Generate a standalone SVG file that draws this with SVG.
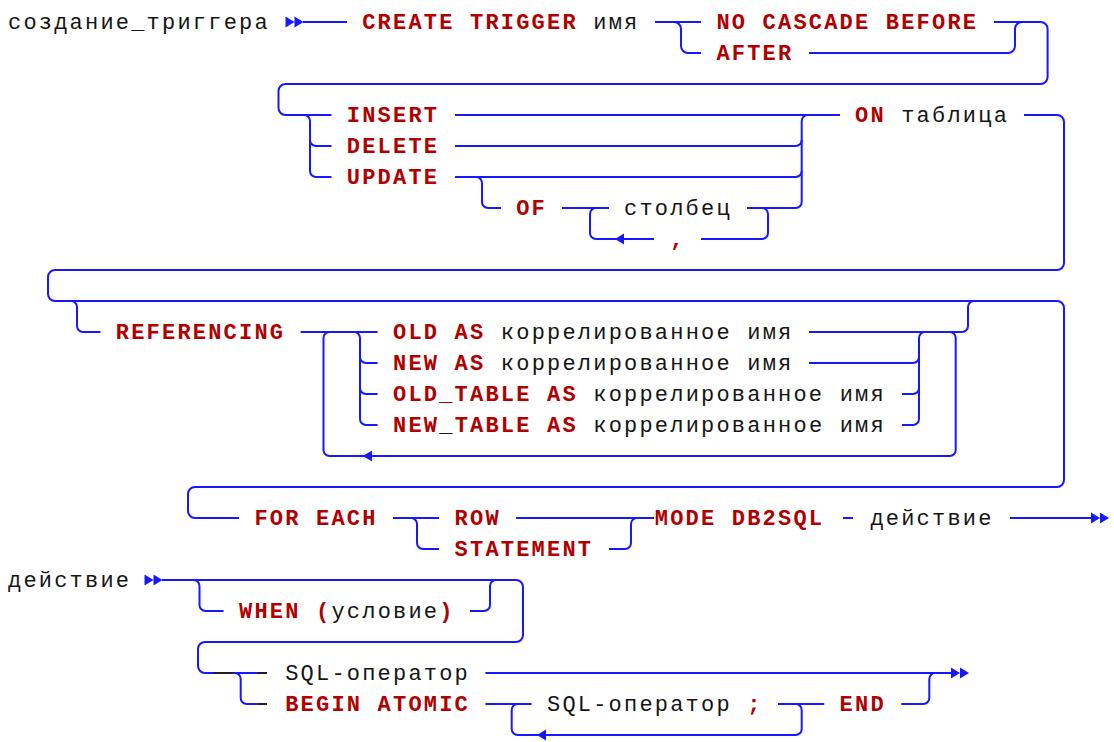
<svg xmlns="http://www.w3.org/2000/svg" width="1114" height="742" viewBox="0 0 1114 742">
  <style>
    text { font-family: "Liberation Mono", "DejaVu Sans Mono", monospace; font-size: 22px; letter-spacing: 2.2px; fill: #141414; }
    .k { fill: #b00000; font-weight: bold; }
    .ln { fill: none; stroke: #1818ff; stroke-width: 2; stroke-linecap: butt; }
    .ah { fill: #1818ff; }
    .dash { fill: none; stroke: #202020; stroke-width: 2; }
  </style>
  <defs>
    <!-- start/end double arrowhead, origin at left edge, centred on the line -->
    <path id="dbl" d="M0,-5.5 L9,0 L0,5.5 Z M9,-5.5 L18,0 L9,5.5 Z"/>
    <!-- loop-back arrowhead, origin at the tip -->
    <path id="back" d="M0,0 L9,-5.5 L9,5.5 Z"/>
  </defs>

  <rect width="1114" height="742" fill="#ffffff"/>

  <!-- ===== connectors ===== -->
  <g id="connectors">
    <!-- row 0 / 1 : CREATE TRIGGER name, BEFORE / AFTER -->
    <path class="ln" d="M303,22 H347"/>
    <path class="ln" d="M655,22 H701"/>
    <path class="ln" d="M674,22 A7,7 0 0 1 681,29 V46 A7,7 0 0 0 688,53 H701"/>
    <path class="ln" d="M994,22 H1040.6 A7,7 0 0 1 1047.6,29 V77 A7,7 0 0 1 1040.6,84 H285.5 A7,7 0 0 0 278.5,91 V108 A7,7 0 0 0 285.5,115 H331.5"/>
    <path class="ln" d="M809,53 H1008 A7,7 0 0 0 1015,46 V29 A7,7 0 0 1 1022,22"/>

    <!-- INSERT / DELETE / UPDATE [OF column, ...] ON table -->
    <path class="ln" d="M455,115 H840"/>
    <path class="ln" d="M304,115 A6,6 0 0 1 310,121 V171 A6,6 0 0 0 316,177 H331.5"/>
    <path class="ln" d="M310,140 A6,6 0 0 0 316,146 H331.5"/>
    <path class="ln" d="M455,146 H795.7 A6,6 0 0 0 801.7,140"/>
    <path class="ln" d="M455,177 H795.7 A6,6 0 0 0 801.7,171"/>
    <path class="ln" d="M747,208 H795.7 A6,6 0 0 0 801.7,202 V121 A6,6 0 0 1 807.7,115"/>
    <path class="ln" d="M476,177 A6,6 0 0 1 482,183 V202 A6,6 0 0 0 488,208 H501"/>
    <path class="ln" d="M562,208 H609"/>
    <path class="ln" d="M762,208 A6,6 0 0 1 768,214 V233 A6,6 0 0 1 762,239 H701"/>
    <path class="ln" d="M654,239 H596 A6,6 0 0 1 590,233 V214 A6,6 0 0 1 596,208"/>
    <use href="#back" class="ah" x="615" y="239"/>

    <!-- table -> REFERENCING -> FOR EACH -->
    <path class="ln" d="M1024,115 H1057 A7,7 0 0 1 1064,122 V263 A7,7 0 0 1 1057,270 H55 A7,7 0 0 0 48,277 V294 A7,7 0 0 0 55,301 H1057 A7,7 0 0 1 1064,308 V480 A7,7 0 0 1 1057,487 H195 A7,7 0 0 0 188,494 V511 A7,7 0 0 0 195,518 H239"/>

    <!-- REFERENCING block -->
    <path class="ln" d="M71,301 A6,6 0 0 1 77,307 V326 A6,6 0 0 0 83,332 H100.5"/>
    <path class="ln" d="M300.6,332 H377.6"/>
    <path class="ln" d="M949.7,332 A6,6 0 0 1 955.7,338 V450 A6,6 0 0 1 949.7,456 H329.5 A6,6 0 0 1 323.5,450 V338 A6,6 0 0 1 329.5,332"/>
    <use href="#back" class="ah" x="363" y="456"/>
    <path class="ln" d="M354,332 A6,6 0 0 1 360,338 V419 A6,6 0 0 0 366,425 H377.6"/>
    <path class="ln" d="M360,357 A6,6 0 0 0 366,363 H377.6"/>
    <path class="ln" d="M360,388 A6,6 0 0 0 366,394 H377.6"/>
    <path class="ln" d="M809,332 H962 A6,6 0 0 0 968,326 V307 A6,6 0 0 1 974,301"/>
    <path class="ln" d="M809,363 H913 A6,6 0 0 0 919,357 V338 A6,6 0 0 1 925,332"/>
    <path class="ln" d="M902,394 H913 A6,6 0 0 0 919,388"/>
    <path class="ln" d="M902,425 H913 A6,6 0 0 0 919,419 V357"/>

    <!-- FOR EACH ROW / STATEMENT MODE DB2SQL -->
    <path class="ln" d="M393,518 H439"/>
    <path class="ln" d="M411,518 A6,6 0 0 1 417,524 V543 A6,6 0 0 0 423,549 H439"/>
    <path class="ln" d="M516,518 H654"/>
    <path class="ln" d="M609,549 H625 A6,6 0 0 0 631,543 V524 A6,6 0 0 1 637,518"/>
    <path class="ln" d="M843,518 H853"/>
    <path class="ln" d="M1010,518 H1091"/>
    <use href="#dbl" class="ah" x="1091" y="518"/>
    <use href="#dbl" class="ah" x="285.5" y="22"/>

    <!-- action: [WHEN (condition)] statement / BEGIN ATOMIC ... END -->
    <use href="#dbl" class="ah" x="144.5" y="580"/>
    <path class="ln" d="M162,580 H516 A7,7 0 0 1 523,587 V635 A7,7 0 0 1 516,642 H205 A7,7 0 0 0 198,649 V666 A7,7 0 0 0 205,673 H267"/>
    <path class="ln" d="M193.5,580 A6,6 0 0 1 199.5,586 V605 A6,6 0 0 0 205.5,611 H223.6"/>
    <path class="ln" d="M470,611 H484 A6,6 0 0 0 490,605 V586 A6,6 0 0 1 496,580"/>
    <path class="ln" d="M234.7,673 A6,6 0 0 1 240.7,679 V698 A6,6 0 0 0 246.7,704 H267"/>
    <!-- dark leader ticks in front of the two statement forms -->
    <path class="dash" d="M213,673 H233 M258,673 H267 M258,704 H267"/>
    <path class="ln" d="M485.4,673 H951"/>
    <use href="#dbl" class="ah" x="951" y="673"/>
    <path class="ln" d="M485.4,704 H531.6"/>
    <path class="ln" d="M795.7,704 A6,6 0 0 1 801.7,710 V729 A6,6 0 0 1 795.7,735 H517.7 A6,6 0 0 1 511.7,729 V710 A6,6 0 0 1 517.7,704"/>
    <use href="#back" class="ah" x="537" y="735"/>
    <path class="ln" d="M778,704 H824.2"/>
    <path class="ln" d="M901.2,704 H923.3 A6,6 0 0 0 929.3,698 V679 A6,6 0 0 1 935.3,673"/>
  </g>

  <!-- ===== terms ===== -->
  <g id="create-trigger-title"><text x="8" y="28.5">создание_триггера</text></g>
  <g id="create-trigger-name"><text x="362.2" y="28.5"><tspan class="k">CREATE TRIGGER</tspan> имя</text></g>
  <g id="no-cascade-before"><text class="k" x="716.4" y="28.5">NO CASCADE BEFORE</text></g>
  <g id="after"><text class="k" x="716.4" y="59.5">AFTER</text></g>

  <g id="insert"><text class="k" x="346.8" y="121.5">INSERT</text></g>
  <g id="delete"><text class="k" x="346.8" y="152.5">DELETE</text></g>
  <g id="update"><text class="k" x="346.8" y="183.5">UPDATE</text></g>
  <g id="on-table"><text x="855" y="121.5"><tspan class="k">ON</tspan> таблица</text></g>
  <g id="of"><text class="k" x="516.2" y="214.5">OF</text></g>
  <g id="column"><text x="624" y="214.5">столбец</text></g>
  <g id="column-comma"><text class="k" x="670.2" y="245.5">,</text></g>

  <g id="referencing"><text class="k" x="115.8" y="338.5">REFERENCING</text></g>
  <g id="old-as"><text x="393" y="338.5"><tspan class="k">OLD AS</tspan> коррелированное имя</text></g>
  <g id="new-as"><text x="393" y="369.5"><tspan class="k">NEW AS</tspan> коррелированное имя</text></g>
  <g id="old-table-as"><text x="393" y="400.5"><tspan class="k">OLD_TABLE AS</tspan> коррелированное имя</text></g>
  <g id="new-table-as"><text x="393" y="431.5"><tspan class="k">NEW</tspan>_<tspan class="k">TABLE AS</tspan> коррелированное имя</text></g>

  <g id="for-each"><text class="k" x="254.4" y="524.5">FOR EACH</text></g>
  <g id="row"><text class="k" x="454.6" y="524.5">ROW</text></g>
  <g id="statement"><text class="k" x="454.6" y="555.5">STATEMENT</text></g>
  <g id="mode-db2sql"><text class="k" x="654.8" y="524.5">MODE DB2SQL</text></g>
  <g id="action-ref"><text x="870.4" y="524.5">действие</text></g>

  <g id="action-title"><text x="8" y="586.5">действие</text></g>
  <g id="when"><text x="239" y="617.5"><tspan class="k">WHEN (</tspan>условие<tspan class="k">)</tspan></text></g>
  <g id="sql-statement"><text x="285.2" y="679.5">SQL-оператор</text></g>
  <g id="begin-atomic"><text class="k" x="285.2" y="710.5">BEGIN ATOMIC</text></g>
  <g id="sql-statement-list"><text x="547" y="710.5">SQL-оператор <tspan class="k">;</tspan></text></g>
  <g id="end"><text class="k" x="839.6" y="710.5">END</text></g>
</svg>
